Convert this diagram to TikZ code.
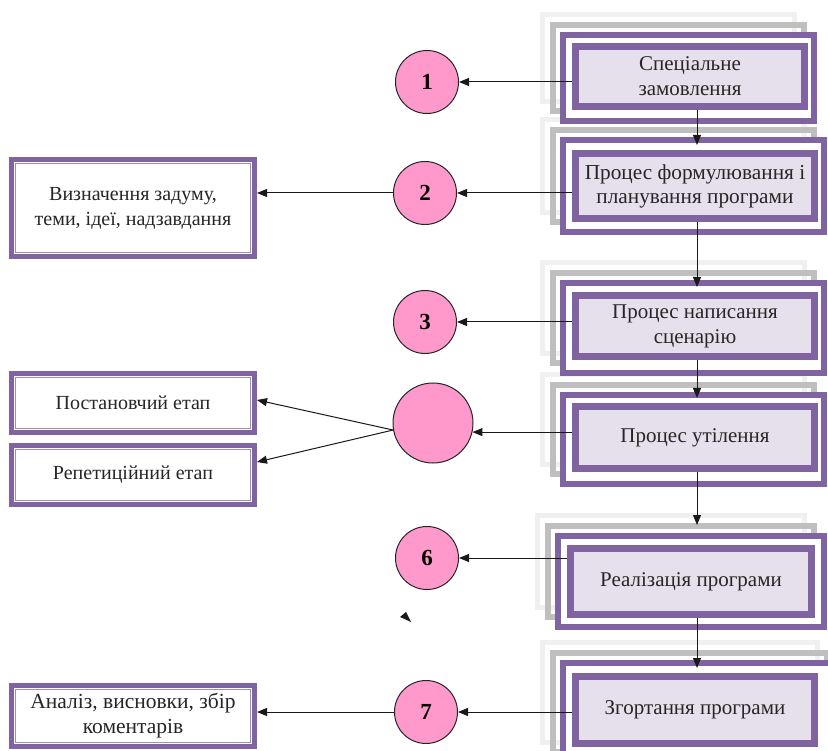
\documentclass[tikz,border=0pt]{standalone}
\usepackage{fontspec}
\setmainfont{Liberation Serif}
\usetikzlibrary{arrows.meta}
\definecolor{pur}{HTML}{8064A2}
\definecolor{lav}{HTML}{E5E0EC}
\definecolor{pnk}{HTML}{FF99CC}
\definecolor{lgr}{HTML}{F0F0F0}
\definecolor{mgr}{HTML}{BFBFBF}
\begin{document}
\begin{tikzpicture}[x=1pt,y=-1pt,
  txt/.style={font=\fontsize{21}{25}\selectfont, align=center, text=black!85},
  inbox/.style={txt, draw=pur, line width=7pt, fill=lav, inner sep=0pt, rectangle},
  lbox/.style={txt, draw=pur, line width=5pt, fill=white, inner sep=0pt, rectangle},
  lgframe/.style={draw=lgr, line width=5pt},
  mgframe/.style={draw=mgr, line width=6pt},
  pframe/.style={draw=pur, line width=6pt, fill=white},
  circ/.style={circle, draw=black!85, line width=1pt, fill=pnk, minimum size=63pt, inner sep=0pt, font=\fontsize{23}{26}\selectfont\bfseries},
  arr/.style={draw=black!90, line width=1pt, -{Triangle[length=10pt,width=8pt]}}]
\clip (0,0) rectangle (828,751);
\fill[white] (0,0) rectangle (828,751);
% shadows of the right boxes
\foreach \xa/\ya/\xb/\yb in {560/32/817/124, 560/137/827/235, 560/280/827/376, 560/392/827/487, 555/533/827/630, 560/660/840/765} {
  \draw[lgframe] ({\xa-17.5},{\ya-17.5}) rectangle ({\xb-22.5},{\yb-22.5});
  \draw[mgframe] ({\xa-7},{\ya-7}) rectangle ({\xb-13},{\yb-13});
}
% outer purple frames
\foreach \xa/\ya/\xb/\yb in {560/32/817/124, 560/137/827/235, 560/280/827/376, 560/392/827/487, 555/533/827/630, 560/660/840/765} {
  \draw[pframe] ({\xa+3},{\ya+3}) rectangle ({\xb-3},{\yb-3});
}
% inner boxes
\node[inbox, minimum width=229pt, minimum height=60pt] (b1) at (690,76.5) {Спеціальне\\замовлення};
\node[inbox, minimum width=239pt, minimum height=65pt, font=\fontsize{21.3}{24}\selectfont] (b2) at (695,186) {Процес формулювання і\\планування програми};
\node[inbox, minimum width=239pt, minimum height=61pt] (b3) at (695,326) {Процес написання\\сценарію};
\node[inbox, minimum width=239pt, minimum height=62pt] (b4) at (695,437.5) {Процес утілення};
\node[inbox, minimum width=241pt, minimum height=66pt] (b6) at (691,581.5) {Реалізація програми};
\node[inbox, minimum width=239pt, minimum height=67pt] (b7) at (695,710) {Згортання програми};
% left boxes
\node[lbox, minimum width=243pt, minimum height=97pt, font=\fontsize{20}{25}\selectfont] (lv) at (133,208) {Визначення задуму,\\теми, ідеї, надзавдання};
\node[lbox, minimum width=243pt, minimum height=59pt, font=\fontsize{20}{24}\selectfont] (lp) at (133,403) {Постановчий етап};
\node[lbox, minimum width=243pt, minimum height=59pt, font=\fontsize{20}{24}\selectfont] (lr) at (133,475) {Репетиційний етап};
\node[lbox, minimum width=243pt, minimum height=61pt, font=\fontsize{21.5}{25}\selectfont] (la) at (133,716) {Аналіз, висновки, збір\\коментарів};
\foreach \n in {lv,lp,lr,la} {
  \draw[draw=pur!75, line width=0.8pt] ([shift={(6.5,6.5)}]\n.north west) rectangle ([shift={(-6.5,-6.5)}]\n.south east);
}
% circles
\node[circ] (c1) at (427,82) {1};
\node[circ] (c2) at (425,193) {2};
\node[circ] (c3) at (425,322) {3};
\node[circ, minimum size=80pt] (c5) at (433,423) {};
\node[circ] (c6) at (427,558) {6};
\node[circ] (c7) at (426,712) {7};
% vertical connectors
\coordinate (ax) at (697,0);
\draw[arr, shorten >=5pt] (ax |- b1.south) -- (ax |- b2.north);
\draw[arr, shorten >=5pt] (ax |- b2.south) -- (ax |- b3.north);
\draw[arr, shorten >=5pt] (ax |- b3.south) -- (ax |- b4.north);
\draw[arr, shorten >=20pt] (ax |- b4.south) -- (ax |- b6.north);
\draw[arr, shorten >=5pt] (ax |- b6.south) -- (ax |- b7.north);
% horizontal connectors
\draw[arr] (c1.east -| b1.west) -- (c1.east);
\draw[arr] (c2.east -| b2.west) -- (c2.east);
\draw[arr] (c3.east -| b3.west) -- (c3.east);
\draw[arr] (c5.-13 -| b4.west) -- (c5.-13);
\draw[arr] (c6.east -| b6.west) -- (c6.east);
\draw[arr] (c7.east -| b7.west) -- (c7.east);
\draw[arr] (c2.west) -- (c2.west -| lv.east);
\draw[arr] (c7.west) -- (c7.west -| la.east);
\draw[arr] (c5.190) -- ([yshift=3pt]lp.east);
\draw[arr] (c5.190) -- ([yshift=13pt]lr.east);
% stray arrowhead
\fill[black!90] (406,612) -- (400,617) -- (411,622) -- cycle;
\end{tikzpicture}
\end{document}
